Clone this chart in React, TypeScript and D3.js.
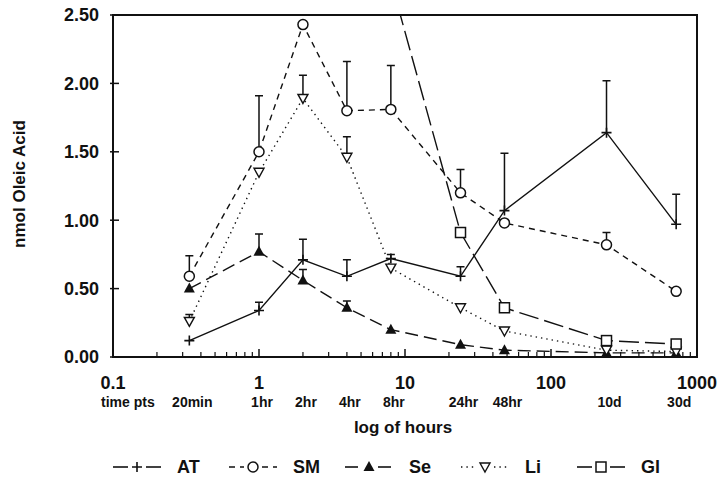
import React, { useEffect, useRef } from 'react';
import * as d3 from 'd3';

// sampling times in hours and their labels
const hours = [1 / 3, 1, 2, 4, 8, 24, 48, 240, 720];
const timeLabels = ['20min', '1hr', '2hr', '4hr', '8hr', '24hr', '48hr', '10d', '30d'];
const decadeTicks = [0.1, 1, 10, 100, 1000];
const yTicks = [0, 0.5, 1, 1.5, 2, 2.5];

// nmol oleic acid per tissue, plus top of error bar (null = none drawn)
const atValues = [0.12, 0.34, 0.71, 0.59, 0.72, 0.59, 1.07, 1.64, 0.97];
const atErr = [null, 0.4, 0.86, 0.71, 0.75, 0.66, 1.49, 2.02, 1.19];
const smValues = [0.59, 1.5, 2.43, 1.8, 1.81, 1.2, 0.98, 0.82, 0.48];
const smErr = [0.74, 1.91, null, 2.16, 2.13, 1.37, null, 0.91, null];
const seValues = [0.5, 0.77, 0.56, 0.36, 0.2, 0.09, 0.05, 0.03, 0.03];
const seErr = [null, 0.9, 0.64, 0.41, null, null, null, null, null];
const liValues = [0.26, 1.35, 1.89, 1.46, 0.65, 0.36, 0.19, 0.05, 0.04];
const liErr = [0.31, null, 2.06, 1.61, null, null, null, null, null];
const glValues = [null, null, null, null, 2.75, 0.91, 0.36, 0.12, 0.095];
const glErr = [null, null, null, null, null, null, null, null, null];

const seriesNames = ['AT', 'SM', 'Se', 'Li', 'Gl'];

const FONT = '"Liberation Sans", Arial, Helvetica, sans-serif';

const App = () => {
    const svgRef = useRef(null);

    useEffect(() => {
        const svg = d3.select(svgRef.current);
        svg.selectAll('*').remove();

        const margin = { top: 15, right: 27, bottom: 131, left: 113 };
        const width = 724;
        const height = 488;

        const x = d3.scaleLog().domain([0.1, 1000]).range([margin.left, width - margin.right]);
        const y = d3.scaleLinear().domain([0, 2.5]).range([height - margin.bottom, margin.top]);

        const series = [
            { name: 'AT', values: atValues, err: atErr, dash: null, marker: 'plus' },
            { name: 'SM', values: smValues, err: smErr, dash: '6,5', marker: 'circle' },
            { name: 'Se', values: seValues, err: seErr, dash: '13,6', marker: 'tri' },
            { name: 'Li', values: liValues, err: liErr, dash: '1.4,4', marker: 'tridown' },
            { name: 'Gl', values: glValues, err: glErr, dash: '20,6', marker: 'square' },
        ];

        const drawMarker = (g, type, cx, cy) => {
            if (type === 'plus') {
                g.append('path')
                    .attr('d', `M${cx - 5},${cy}H${cx + 5}M${cx},${cy - 5}V${cy + 5}`)
                    .attr('stroke', '#111').attr('stroke-width', 1.6).attr('fill', 'none');
            } else if (type === 'circle') {
                g.append('circle').attr('cx', cx).attr('cy', cy).attr('r', 5)
                    .attr('fill', '#fff').attr('stroke', '#111').attr('stroke-width', 1.5);
            } else if (type === 'tri') {
                g.append('path')
                    .attr('d', `M${cx},${cy - 6}L${cx + 5.5},${cy + 4}L${cx - 5.5},${cy + 4}Z`)
                    .attr('fill', '#111');
            } else if (type === 'tridown') {
                g.append('path')
                    .attr('d', `M${cx},${cy + 5}L${cx + 5},${cy - 4}L${cx - 5},${cy - 4}Z`)
                    .attr('fill', '#fff').attr('stroke', '#111').attr('stroke-width', 1.4);
            } else if (type === 'square') {
                g.append('rect').attr('x', cx - 5).attr('y', cy - 5).attr('width', 10).attr('height', 10)
                    .attr('fill', '#fff').attr('stroke', '#111').attr('stroke-width', 1.5);
            }
        };

        svg.append('defs').append('clipPath').attr('id', 'plot-clip')
            .append('rect')
            .attr('x', margin.left).attr('y', margin.top)
            .attr('width', width - margin.left - margin.right)
            .attr('height', height - margin.top - margin.bottom);

        // frame
        svg.append('rect')
            .attr('x', margin.left).attr('y', margin.top)
            .attr('width', width - margin.left - margin.right)
            .attr('height', height - margin.top - margin.bottom)
            .attr('fill', 'none').attr('stroke', '#111').attr('stroke-width', 2);

        // y ticks and labels
        yTicks.forEach(v => {
            svg.append('line')
                .attr('x1', margin.left - 3).attr('x2', margin.left + 6)
                .attr('y1', y(v)).attr('y2', y(v))
                .attr('stroke', '#111').attr('stroke-width', 1.5);
            svg.append('text')
                .attr('x', 99).attr('y', y(v)).attr('dy', '0.35em')
                .attr('text-anchor', 'end')
                .attr('font-family', FONT).attr('font-weight', 'bold').attr('font-size', 18)
                .attr('fill', '#111')
                .text(v.toFixed(2));
        });

        // x log ticks, inward
        const minor = [];
        for (let d = 0.1; d < 1000; d *= 10) {
            for (let k = 2; k <= 9; k++) minor.push(d * k);
        }
        const y0 = y(0);
        minor.forEach(t => {
            svg.append('line').attr('x1', x(t)).attr('x2', x(t))
                .attr('y1', y0).attr('y2', y0 - 5)
                .attr('stroke', '#111').attr('stroke-width', 1.2);
        });
        decadeTicks.forEach(t => {
            svg.append('line').attr('x1', x(t)).attr('x2', x(t))
                .attr('y1', y0).attr('y2', y0 - 8)
                .attr('stroke', '#111').attr('stroke-width', 1.5);
            svg.append('text')
                .attr('x', x(t)).attr('y', 389)
                .attr('text-anchor', 'middle')
                .attr('font-family', FONT).attr('font-weight', 'bold').attr('font-size', 18)
                .attr('fill', '#111')
                .text(String(t));
        });

        // time point labels
        svg.append('text')
            .attr('x', x(0.1) - 12).attr('y', 407)
            .attr('font-family', FONT).attr('font-weight', 'bold').attr('font-size', 14)
            .attr('fill', '#111')
            .text('time pts');
        hours.forEach((h, i) => {
            svg.append('text')
                .attr('x', x(h) + 3).attr('y', 407)
                .attr('text-anchor', 'middle')
                .attr('font-family', FONT).attr('font-weight', 'bold').attr('font-size', 14)
                .attr('fill', '#111')
                .text(timeLabels[i]);
        });

        svg.append('text')
            .attr('x', 403).attr('y', 433)
            .attr('text-anchor', 'middle')
            .attr('font-family', FONT).attr('font-weight', 'bold').attr('font-size', 17)
            .attr('fill', '#111')
            .text('log of hours');

        svg.append('text')
            .attr('transform', 'translate(25,184) rotate(-90)')
            .attr('text-anchor', 'middle')
            .attr('font-family', FONT).attr('font-weight', 'bold').attr('font-size', 17)
            .attr('fill', '#111')
            .text('nmol Oleic Acid');

        // series
        const plot = svg.append('g').attr('clip-path', 'url(#plot-clip)');
        series.forEach(s => {
            const pts = hours
                .map((h, i) => ({ h, v: s.values[i], e: s.err[i] }))
                .filter(p => p.v !== null);
            const line = d3.line().x(p => x(p.h)).y(p => y(p.v));
            plot.append('path')
                .attr('d', line(pts))
                .attr('fill', 'none').attr('stroke', '#111').attr('stroke-width', 1.4)
                .attr('stroke-dasharray', s.dash);
        });
        series.forEach(s => {
            hours.forEach((h, i) => {
                const e = s.err[i];
                const v = s.values[i];
                if (e === null || v === null) return;
                plot.append('path')
                    .attr('d', `M${x(h)},${y(v)}V${y(e)}M${x(h) - 4},${y(e)}H${x(h) + 4}`)
                    .attr('stroke', '#111').attr('stroke-width', 1.5).attr('fill', 'none');
            });
        });
        series.forEach(s => {
            hours.forEach((h, i) => {
                const v = s.values[i];
                if (v === null || v > 2.5) return;
                drawMarker(plot, s.marker, x(h), y(v));
            });
        });

        // legend
        const legendX = d3.scalePoint().domain(seriesNames).range([137, 601]);
        series.forEach(s => {
            const cx = legendX(s.name);
            const ly = 467;
            const g = svg.append('g');
            [[cx - 24, cx - 9], [cx + 9, cx + 24]].forEach(([a, b]) => {
                g.append('line').attr('x1', a).attr('x2', b).attr('y1', ly).attr('y2', ly)
                    .attr('stroke', '#111').attr('stroke-width', 1.6)
                    .attr('stroke-dasharray', s.dash);
            });
            drawMarker(g, s.marker, cx, ly);
            g.append('text')
                .attr('x', cx + 40).attr('y', 473)
                .attr('font-family', FONT).attr('font-weight', 'bold').attr('font-size', 18)
                .attr('fill', '#111')
                .text(s.name);
        });
    }, []);

    return (
        <svg
            ref={svgRef}
            width={724}
            height={488}
            style={{ position: 'absolute', left: 0, top: 0, background: '#fff' }}
        ></svg>
    );
};

export default App;
